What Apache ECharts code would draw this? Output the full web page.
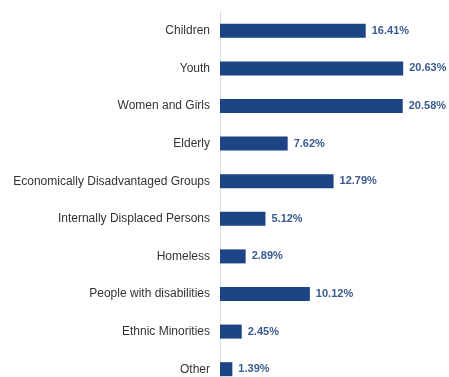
<!DOCTYPE html>
<html>
<head>
<meta charset="utf-8">
<script src="https://cdn.jsdelivr.net/npm/echarts@6/dist/echarts.min.js"></script>
<style>
  html, body { margin: 0; padding: 0; background: #fff; overflow: hidden; }
  /* taller than the window: the last row is cut off at the bottom, as in the original */
  #chart { width: 449px; height: 388px; }
</style>
</head>
<body>
<div id="chart"></div>
<script>
const categories = [
  'Children',
  'Youth',
  'Women and Girls',
  'Elderly',
  'Economically Disadvantaged Groups',
  'Internally Displaced Persons',
  'Homeless',
  'People with disabilities',
  'Ethnic Minorities',
  'Other'
];
const shares = [16.41, 20.63, 20.58, 7.62, 12.79, 5.12, 2.89, 10.12, 2.45, 1.39];

const myChart = echarts.init(document.getElementById('chart'));
myChart.setOption({
  animation: false,
  textStyle: { fontFamily: 'Liberation Sans, Arial, sans-serif' },
  grid: { left: 220, right: 7, top: 12, bottom: 0, containLabel: false },
  xAxis: {
    type: 'value',
    min: 0,
    max: 25,
    show: false
  },
  yAxis: {
    type: 'category',
    inverse: true,
    data: categories,
    axisTick: { show: false },
    axisLine: { lineStyle: { color: '#dcdcdc', width: 1 } },
    axisLabel: { color: '#333', fontSize: 12, margin: 10 }
  },
  series: [{
    type: 'bar',
    data: shares,
    barWidth: 14,
    itemStyle: { color: '#1d4585' },
    label: {
      show: true,
      position: 'right',
      distance: 6,
      color: '#3b5b8f',
      fontSize: 11,
      fontWeight: 'bold',
      formatter: p => p.value.toFixed(2) + '%'
    }
  }]
});
</script>
</body>
</html>
